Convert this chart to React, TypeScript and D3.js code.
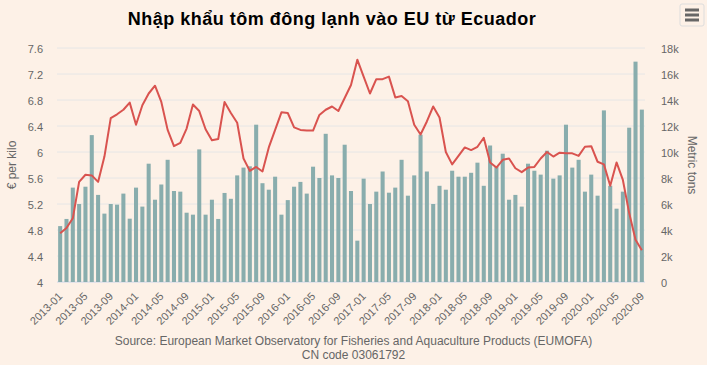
import React from 'react'
import * as d3 from 'd3'

const startYear = 2013
const monthCount = 93

// metric tons (thousands), 2013-01 .. 2020-09
const volumes = [
  4.3, 4.85, 7.26, 6.0, 7.33, 11.3, 6.7, 5.26, 6.0, 5.95, 6.8, 4.87,
  7.26, 5.8, 9.1, 6.33, 7.5, 9.4, 7.0, 6.95, 5.33, 5.18, 10.2, 5.18,
  6.33, 4.85, 6.85, 6.4, 8.2, 8.8, 8.9, 12.1, 7.6, 7.1, 8.1, 5.18,
  6.3, 7.33, 7.7, 6.8, 8.87, 8.0, 11.4, 8.2, 8.0, 10.56, 7.0, 3.18,
  7.95, 6.0, 6.95, 8.5, 6.87, 7.26, 9.4, 6.64, 8.2, 11.33, 8.5, 6.0,
  7.4, 7.1, 8.56, 8.1, 8.1, 8.4, 9.18, 7.4, 10.5, 8.87, 9.87, 6.33,
  6.7, 5.8, 9.1, 8.56, 8.26, 10.1, 7.95, 8.2, 12.1, 8.8, 9.4, 6.95,
  8.26, 6.64, 13.2, 7.4, 5.64, 6.95, 11.87, 16.95, 13.26,
]

// € per kilo
const prices = [
  4.75, 4.83, 4.98, 5.54, 5.65, 5.64, 5.54, 5.93, 6.52, 6.58, 6.65, 6.76,
  6.42, 6.72, 6.9, 7.02, 6.77, 6.34, 6.09, 6.14, 6.36, 6.73, 6.63, 6.35,
  6.18, 6.2, 6.77, 6.6, 6.45, 5.9, 5.71, 5.77, 5.7, 6.07, 6.34, 6.61,
  6.6, 6.38, 6.34, 6.33, 6.33, 6.57, 6.65, 6.7, 6.63, 6.83, 7.03, 7.42,
  7.16, 6.9, 7.12, 7.12, 7.16, 6.84, 6.86, 6.78, 6.42, 6.27, 6.47, 6.7,
  6.53, 6.0, 5.81, 5.94, 6.07, 6.03, 6.08, 6.22, 5.84, 5.76, 5.88, 5.9,
  5.75, 5.69, 5.76, 5.77, 5.9, 6.0, 5.93, 5.99, 5.98, 5.98, 5.94, 6.08,
  6.09, 5.85, 5.81, 5.48, 5.84, 5.57, 5.06, 4.65, 4.49,
]

const months = d3.range(monthCount).map(i => {
  const y = startYear + Math.floor(i / 12)
  const m = (i % 12) + 1
  return `${y}-${m < 10 ? '0' + m : m}`
})

const priceTicks = [4, 4.4, 4.8, 5.2, 5.6, 6, 6.4, 6.8, 7.2, 7.6]
const volumeTicks = [0, 2, 4, 6, 8, 10, 12, 14, 16, 18]

const W = 707, H = 365
const top = 48, bottom = 282, left = 57, right = 645
const font = '"Liberation Sans", Arial, sans-serif'

export default function App() {
  const x = d3.scaleBand<string>().domain(months).range([left, right]).paddingInner(0.36).paddingOuter(0.18)
  const yPrice = d3.scaleLinear().domain([4, 7.6]).range([bottom, top])
  const yVol = d3.scaleLinear().domain([0, 18]).range([bottom, top])
  const cx = (m: string) => (x(m) ?? 0) + x.bandwidth() / 2

  const line = d3.line<number>()
    .x((_, i) => cx(months[i]))
    .y(d => yPrice(d))

  return (
    <svg width={W} height={H} style={{ position: 'absolute', left: 0, top: 0, background: '#fdf1e7', fontFamily: font }}>
      <rect width={W} height={H} fill="#fdf1e7" />
      <text x={332} y={25} textAnchor="middle" fontSize={18} fontWeight="bold" letterSpacing={0.5} fill="#000">
        Nhập khẩu tôm đông lạnh vào EU từ Ecuador
      </text>
      <g transform="translate(680,4)">
        <rect x={0} y={0} width={24} height={22} rx={2} fill="#fdf1e7" stroke="#ddd" />
        {[6, 11, 16].map(yy => (
          <line key={yy} x1={5} x2={19} y1={yy} y2={yy} stroke="#666" strokeWidth={3} />
        ))}
      </g>

      {priceTicks.map(t => (
        <g key={t}>
          <line x1={left} x2={right} y1={yPrice(t)} y2={yPrice(t)} stroke={t === 4 ? '#ccd6eb' : '#e6e6e6'} />
          <text x={43} y={yPrice(t) + 5} textAnchor="end" fontSize={11} fill="#666">{t}</text>
        </g>
      ))}
      {volumeTicks.map(t => (
        <text key={t} x={661} y={yVol(t) + 5} fontSize={11} fill="#666">{t === 0 ? '0' : `${t}k`}</text>
      ))}

      <text transform={`translate(16,${(top + bottom) / 2}) rotate(-90)`} textAnchor="middle" fontSize={12} fill="#666">€ per kilo</text>
      <text transform={`translate(688,${(top + bottom) / 2}) rotate(90)`} textAnchor="middle" fontSize={12} fill="#666">Metric tons</text>

      {volumes.map((v, i) => (
        <rect key={i} x={x(months[i])} y={yVol(v)} width={x.bandwidth()} height={bottom - yVol(v)} fill="#89adad" />
      ))}

      <path d={line(prices) ?? ''} fill="none" stroke="#d9534f" strokeWidth={2} strokeLinejoin="round" />

      {months.filter((_, i) => i % 4 === 0).map(m => (
        <text key={m} transform={`translate(${cx(m) + 3},${bottom + 15}) rotate(-45)`} textAnchor="end" fontSize={11} fill="#666">{m}</text>
      ))}

      <text x={W / 2} y={345} textAnchor="middle" fontSize={12} fill="#666">
        Source: European Market Observatory for Fisheries and Aquaculture Products (EUMOFA)
      </text>
      <text x={W / 2} y={359} textAnchor="middle" fontSize={12} fill="#666">CN code 03061792</text>
    </svg>
  )
}
